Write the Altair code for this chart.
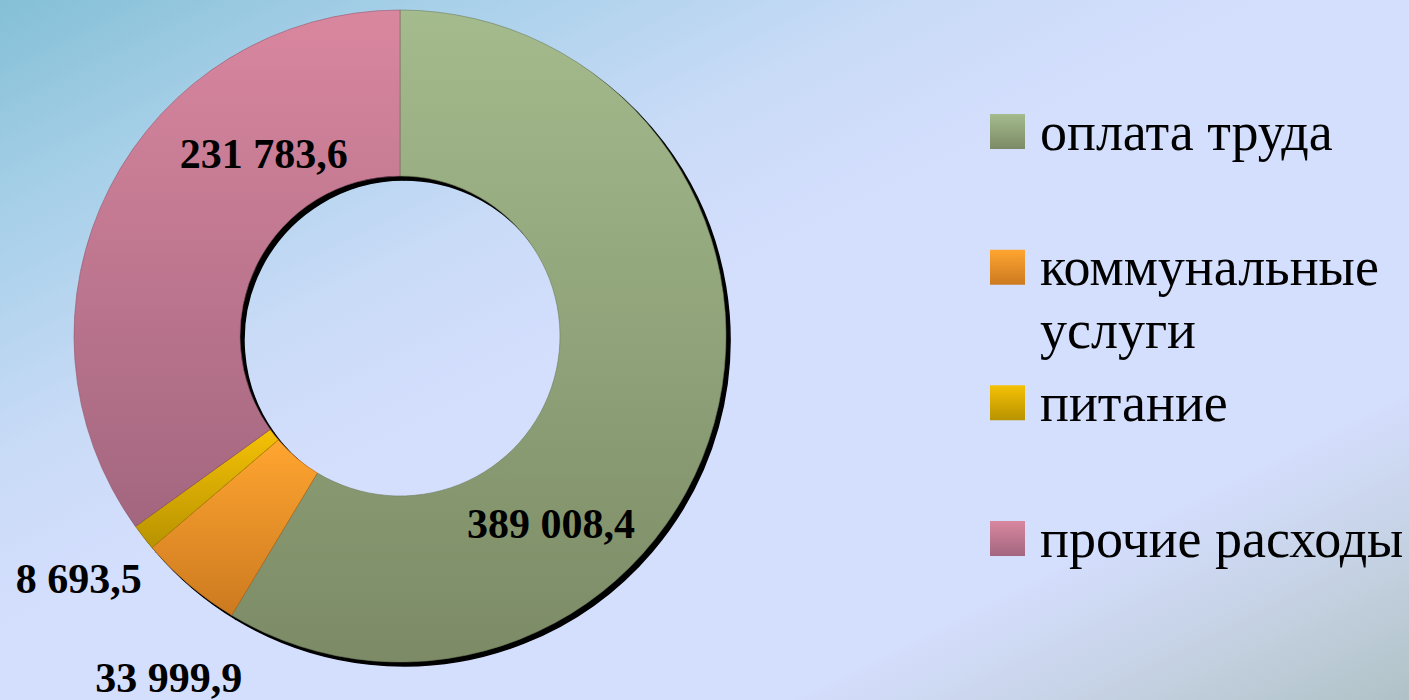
import altair as alt
import pandas as pd

# ---- data ----
categories = ["оплата труда", "коммунальные услуги", "питание", "прочие расходы"]
values = [389008.4, 33999.9, 8693.5, 231783.6]
value_labels = ["389 008,4", "33 999,9", "8 693,5", "231 783,6"]
legend_text = ["оплата труда", "коммунальные\nуслуги", "питание", "прочие расходы"]

# ---- styling ----
top_colors = ["#a4bb8d", "#ffa530", "#f5c106", "#d9879f"]
bottom_colors = ["#7c8b66", "#cc7a20", "#b89300", "#a3667f"]
edge_colors = ["#6f7d5a", "#b86c1a", "#a88400", "#93596f"]
# label nudges (dx, dy) away from each slice's mid-angle point
label_nudge = [(-83, 124), (-74, 158), (-130, 94), (80, -70)]

W, H = 1409, 700
CX, CY = 400, 336
R_OUT, R_IN = 326, 160
FONT = "Liberation Serif"

df = pd.DataFrame({
    "category": categories,
    "value": values,
    "label": value_labels,
    "legend": legend_text,
    "order": list(range(len(categories))),
})
total = float(sum(values))


def vgrad(top, bottom):
    return alt.LinearGradient(
        gradient="linear",
        stops=[alt.GradientStop(color=top, offset=0), alt.GradientStop(color=bottom, offset=1)],
        x1=0, x2=0, y1=0, y2=1,
    )


base = alt.Chart(df).transform_window(
    end="sum(value)", sort=[alt.SortField("order")], frame=[None, 0]
).transform_calculate(
    start="datum.end - datum.value", mid="datum.end - datum.value / 2"
)

theta_scale = alt.Scale(domain=[0, total], nice=False)

# background gradient
bg = alt.Chart(alt.Data(values=[{"a": 1}])).mark_rect(
    color=alt.LinearGradient(
        gradient="linear",
        stops=[
            alt.GradientStop(color="#84c0d6", offset=0),
            alt.GradientStop(color="#a8d0e9", offset=0.16),
            alt.GradientStop(color="#c9dbf7", offset=0.33),
            alt.GradientStop(color="#d4defd", offset=0.45),
            alt.GradientStop(color="#d4defd", offset=0.78),
            alt.GradientStop(color="#c3d0e0", offset=0.9),
            alt.GradientStop(color="#b0c2c6", offset=1),
        ],
        x1=0, y1=0, x2=1, y2=1,
    )
).encode(x=alt.value(0), x2=alt.value(W), y=alt.value(0), y2=alt.value(H))

center = dict(x=alt.value(CX), y=alt.value(CY))

shadow = base.mark_arc(
    outerRadius=R_OUT, innerRadius=R_IN, color="black", stroke="black", strokeWidth=1.5,
    xOffset=4, yOffset=4,
).encode(
    theta=alt.Theta("start:Q", scale=theta_scale), theta2="end:Q", **center
)

layers = [bg, shadow]

for i, cat in enumerate(categories):
    layers.append(
        base.transform_filter(alt.datum.category == cat).mark_arc(
            outerRadius=R_OUT, innerRadius=R_IN,
            color=vgrad(top_colors[i], bottom_colors[i]),
            stroke=edge_colors[i], strokeWidth=0.6,
        ).encode(theta=alt.Theta("start:Q", scale=theta_scale), theta2="end:Q", **center)
    )

for i, cat in enumerate(categories):
    dx, dy = label_nudge[i]
    layers.append(
        base.transform_filter(alt.datum.category == cat).mark_text(
            radius=(R_OUT + R_IN) / 2, dx=dx, dy=dy,
            font=FONT, fontSize=42, fontWeight="bold", color="black",
            align="center", baseline="middle",
        ).encode(theta=alt.Theta("mid:Q", scale=theta_scale), text="label:N", **center)
    )

legend_y = alt.Y("category:N", scale=alt.Scale(domain=categories, range=[131.5, 538.5], padding=0), axis=None)

for i, cat in enumerate(categories):
    layers.append(
        alt.Chart(df).transform_filter(alt.datum.category == cat).mark_square(
            size=35 * 35, opacity=1, color=vgrad(top_colors[i], bottom_colors[i]),
        ).encode(x=alt.value(1007.5), y=legend_y)
    )

layers.append(
    alt.Chart(df).mark_text(
        font=FONT, fontSize=54, color="black", align="left", baseline="alphabetic",
        dy=18, lineBreak="\n", lineHeight=63,
    ).encode(x=alt.value(1040), y=legend_y, text="legend:N")
)

chart = alt.layer(*layers).properties(
    width=W, height=H, padding=0, autosize=alt.AutoSizeParams(type="none"),
    background="#d4defd",
).configure_view(strokeWidth=0)

chart.save("out.html", embed_options={"renderer": "svg", "actions": False})
